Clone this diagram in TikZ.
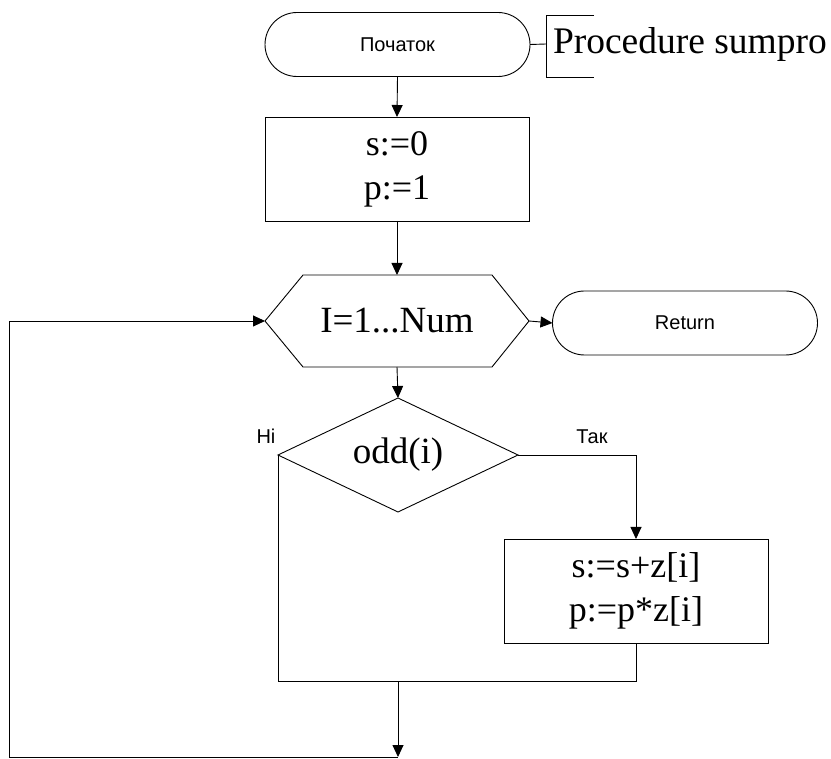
\documentclass[tikz,border=0pt]{standalone}
\usepackage{fontspec}
\setmainfont{Liberation Serif}
\newfontfamily\sansf{Liberation Sans}
\usetikzlibrary{arrows.meta,calc}
\tikzset{
  ln/.style={line width=0.9pt, draw=black},
  arr/.style={ln, -{Triangle[length=12pt,width=11pt]}},
  base/.style={inner sep=0pt, outer sep=0pt, align=center},
  term/.style={base, draw, line width=0.9pt, minimum width=265pt, minimum height=64pt, rounded corners=32pt, font=\sansf\fontsize{20}{22}\selectfont},
  procbox/.style={base, draw, line width=0.9pt, minimum width=264pt, minimum height=104pt, font=\fontsize{36}{44}\selectfont},
  shapebox/.style={base, font=\fontsize{37}{44}\selectfont},
  lbl/.style={base, font=\sansf\fontsize{20}{22}\selectfont},
}
\begin{document}
\begin{tikzpicture}[x=1pt,y=-1pt]
\useasboundingbox (0,0) rectangle (831,759);
% nodes
\node[term] (start) at (397.5,44.5) {Початок};
\node[procbox] (init) at (397,169) {s:=0\\p:=1};
\node[shapebox, minimum width=264pt, minimum height=92pt] (hex) at (397,321) {I=1...Num};
\node[term] (ret) at (685,323) {Return};
\node[shapebox, minimum width=240pt, minimum height=114pt] (dia) at (398,455) {odd(i)};
\node[procbox] (body) at (636,591) {s:=s+z[i]\\p:=p*z[i]};
\node[lbl, anchor=base] (no) at (266,444) {Ні};
\node[lbl, anchor=base] (yes) at (592,444) {Так};
\node[base, anchor=west, font=\fontsize{37.5}{44}\selectfont] (proc) at (553,44) {Procedure sumpro};
% hexagon outline
\draw[ln] (hex.west) -- ($(hex.north west)+(38,0)$) -- ($(hex.north east)+(-37,0)$) -- (hex.east)
  -- ($(hex.south east)+(-37,0)$) -- ($(hex.south west)+(38,0)$) -- cycle;
% diamond outline
\draw[ln] (dia.north) -- (dia.east) -- (dia.south) -- (dia.west) -- cycle;
% annotation bracket
\coordinate (bk) at (546,44);
\coordinate (bkt) at (594,15);
\coordinate (bkb) at (594,77);
\draw[ln] (start.east) -- (bk);
\draw[ln] (bkt) -- (bkt -| bk) -- (bkb -| bk) -- (bkb);
% flow
\draw[arr] (start.south) -- (init.north);
\draw[arr] (init.south) -- (hex.north);
\draw[arr] (hex.south) -- (dia.north);
\draw[arr] (hex.east) -- (ret.west);
\draw[arr] (dia.east) -| (body.north);
\coordinate (m) at (398,681);
\coordinate (bot) at (398,757);
\coordinate (lb) at (9,757);
\draw[ln] (dia.west) |- (m);
\draw[ln] (body.south) |- (m);
\draw[arr] (m) -- (bot);
\draw[arr] (bot) -- (lb) |- (hex.west);
\end{tikzpicture}
\end{document}
